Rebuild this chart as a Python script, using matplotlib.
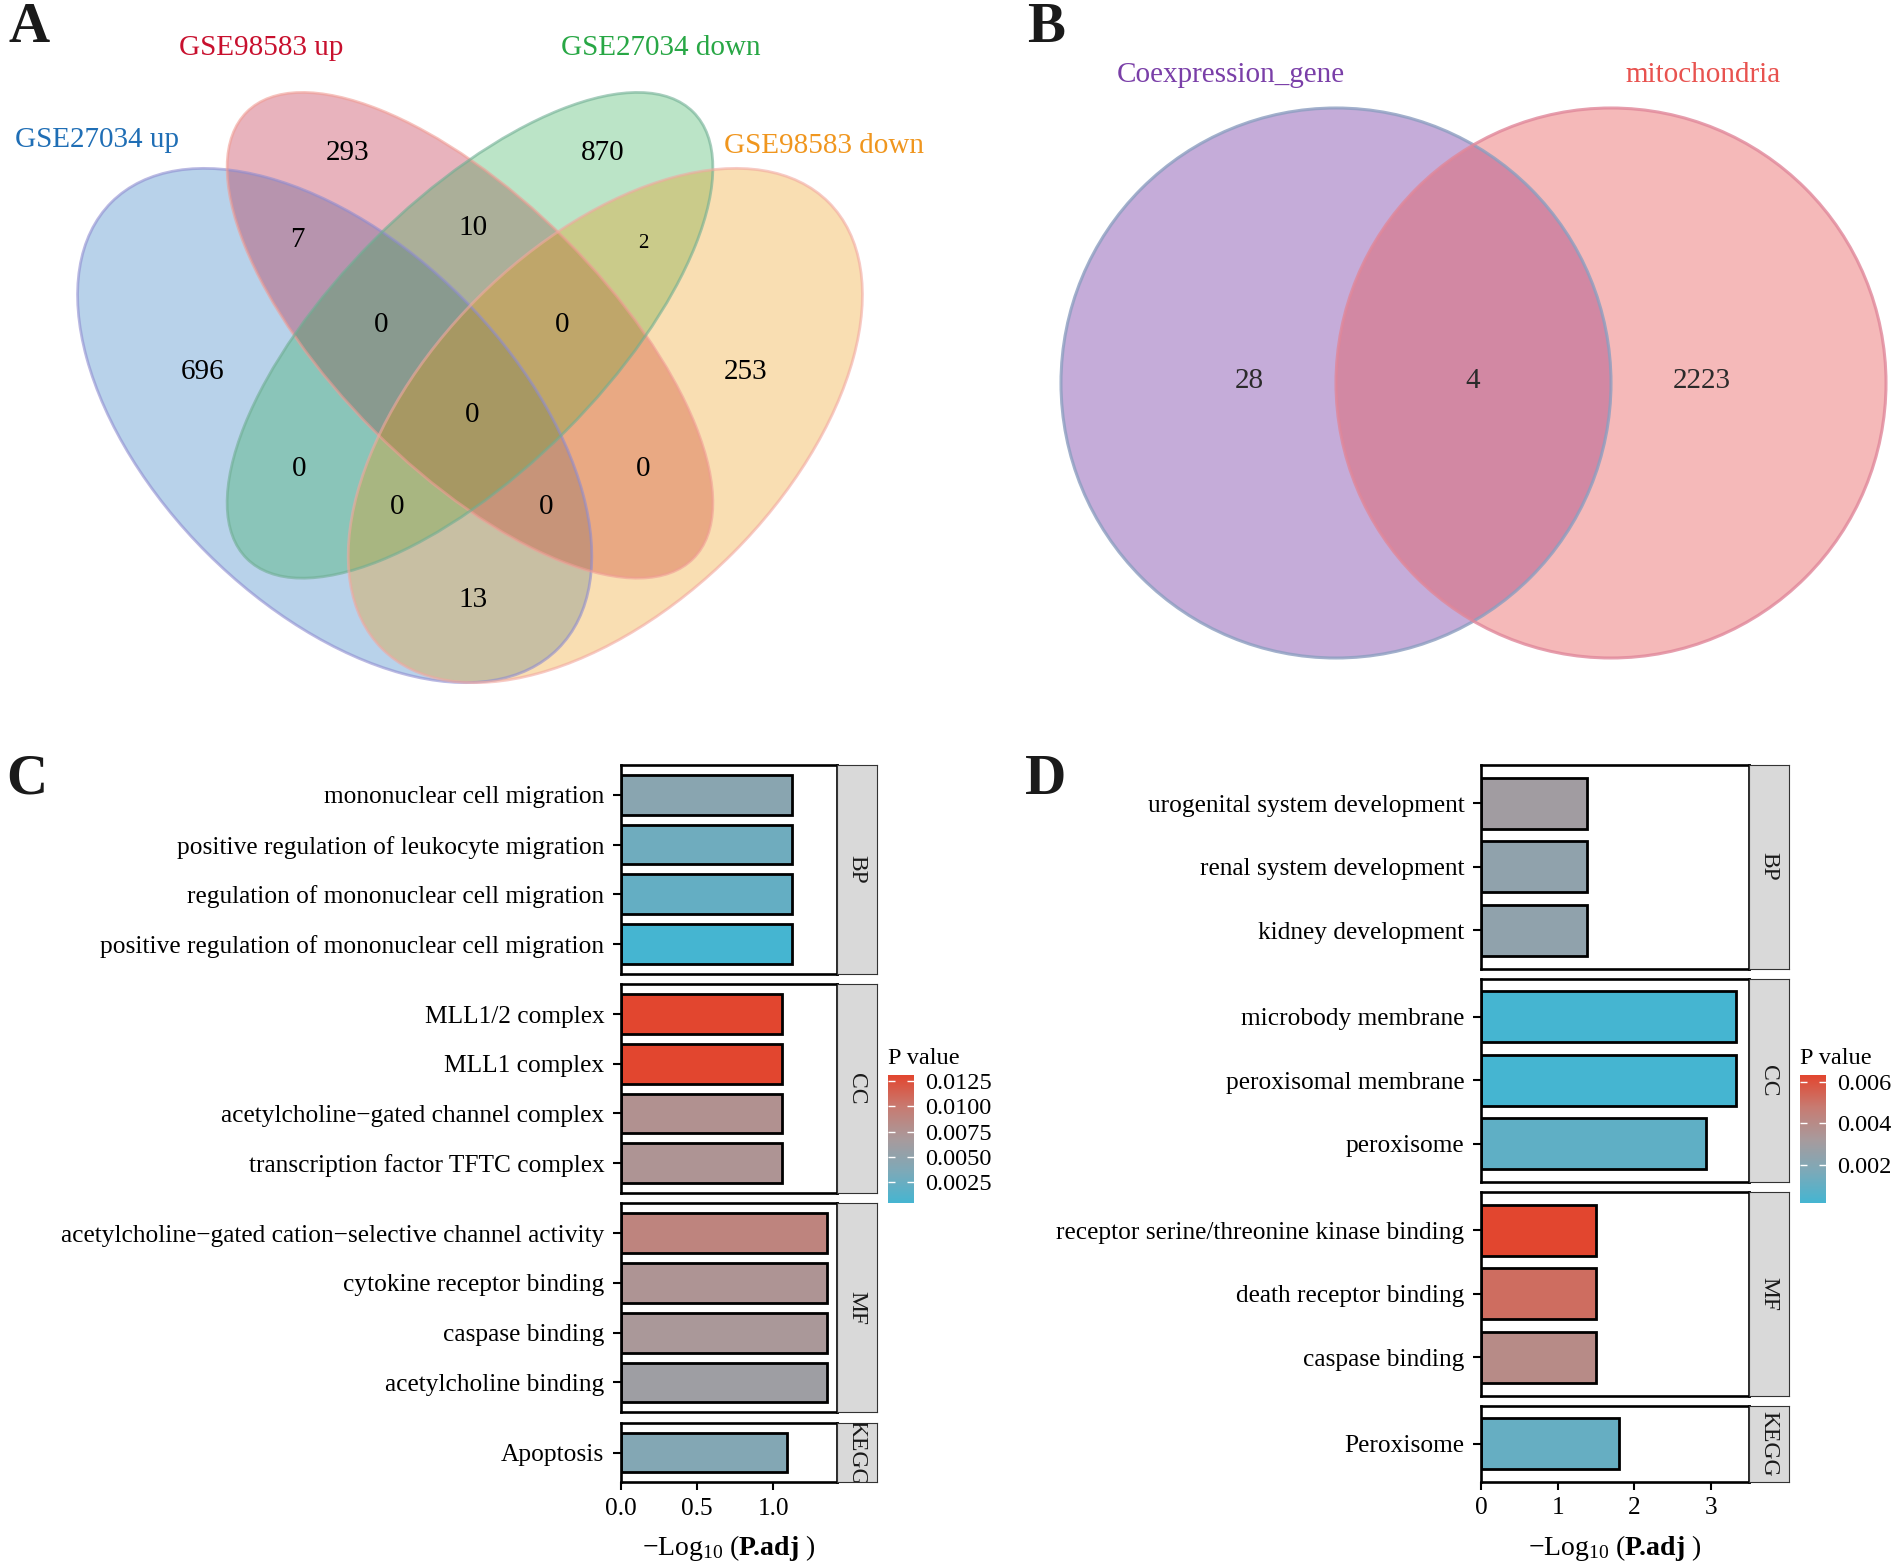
import matplotlib
matplotlib.use('Agg')
import matplotlib.pyplot as plt
from matplotlib.patches import Ellipse
from matplotlib.colors import LinearSegmentedColormap, Normalize
from matplotlib.cm import ScalarMappable

plt.rcParams['font.family'] = ['Liberation Serif', 'DejaVu Serif']
plt.rcParams['mathtext.fontset'] = 'custom'
plt.rcParams['mathtext.rm'] = 'Liberation Serif'
plt.rcParams['mathtext.bf'] = 'Liberation Serif:bold'
plt.rcParams['mathtext.it'] = 'Liberation Serif:italic'

# ---------------- data ----------------
# A: four set venn (blue, pink, green, orange)
venn4_sets = ['GSE27034 up', 'GSE98583 up', 'GSE27034 down', 'GSE98583 down']
venn4_regions = ['0100', '0010', '1100', '0110', '0011', '1000', '1110', '0111',
                 '0001', '1111', '1010', '0101', '1011', '1101', '1001']
venn4_counts = [293, 870, 7, 10, 2, 696, 0, 0, 253, 0, 0, 0, 0, 0, 13]

# B: two set venn
venn2_sets = ['Coexpression_gene', 'mitochondria']
venn2_counts = [28, 4, 2223]   # only left, both, only right

# C: enrichment
c_terms = ['mononuclear cell migration', 'positive regulation of leukocyte migration',
           'regulation of mononuclear cell migration',
           'positive regulation of mononuclear cell migration',
           'MLL1/2 complex', 'MLL1 complex', 'acetylcholine\u2212gated channel complex',
           'transcription factor TFTC complex',
           'acetylcholine\u2212gated cation\u2212selective channel activity',
           'cytokine receptor binding', 'caspase binding', 'acetylcholine binding',
           'Apoptosis']
c_ont = ['BP'] * 4 + ['CC'] * 4 + ['MF'] * 4 + ['KEGG']
c_logp = [1.119, 1.119, 1.119, 1.119, 1.057, 1.057, 1.057, 1.057,
          1.349, 1.349, 1.349, 1.349, 1.091]
c_pval = [0.0045, 0.0028, 0.0022, 0.00042, 0.0131, 0.0131, 0.0077, 0.0074,
          0.0090, 0.0074, 0.0070, 0.0060, 0.0040]

# D: enrichment
d_terms = ['urogenital system development', 'renal system development',
           'kidney development', 'microbody membrane', 'peroxisomal membrane',
           'peroxisome', 'receptor serine/threonine kinase binding',
           'death receptor binding', 'caspase binding', 'Peroxisome']
d_ont = ['BP'] * 3 + ['CC'] * 3 + ['MF'] * 3 + ['KEGG']
d_logp = [1.38, 1.38, 1.38, 3.33, 3.33, 2.94, 1.50, 1.50, 1.50, 1.80]
d_pval = [0.0030, 0.0024, 0.0024, 0.00016, 0.00016, 0.0009,
          0.00634, 0.0052, 0.0040, 0.0011]

# ---------------- layout / style ----------------
W, H = 1902, 1568
fig = plt.figure(figsize=(W / 100, H / 100), dpi=100)


def px_axes(x0, y0, x1, y1):
    # pixel box, origin top-left
    return fig.add_axes([x0 / W, 1 - y1 / H, (x1 - x0) / W, (y1 - y0) / H])


venn4_fill = ['#166CBC', '#B60526', '#20A848', '#EE9400']
venn4_edge = ['#8E8CD0', '#F09C94', '#6FAE93', '#F2A8A0']
venn4_text = ['#1F6EB5', '#C8102E', '#28A745', '#F0961E']
venn4_shapes = [((0.35, 0.47), 0.35, 0.20, -45), ((0.50, 0.57), 0.35, 0.15, -45),
                ((0.50, 0.57), 0.35, 0.15, 45), ((0.65, 0.47), 0.35, 0.20, 45)]
venn4_set_pos = [(0.0865, 0.787), (0.268, 0.888), (0.712, 0.888), (0.892, 0.780)]
venn4_pos = {'0100': (0.364, 0.772), '0010': (0.647, 0.772), '1100': (0.309, 0.676),
             '0110': (0.503, 0.689), '0011': (0.692, 0.672), '1000': (0.204, 0.529),
             '1110': (0.401, 0.581), '0111': (0.602, 0.581), '0001': (0.806, 0.529),
             '1111': (0.502, 0.482), '1010': (0.311, 0.422), '0101': (0.692, 0.422),
             '1011': (0.419, 0.380), '1101': (0.584, 0.380), '1001': (0.503, 0.277)}

# panel A
S = 902.0
axA = px_axes(0, 0, 951, 760)
axA.set_xlim(0.5 - 470 / S, 0.5 + (951 - 470) / S)
axA.set_ylim(0.47 - (760 - 425.5) / S, 0.47 + 425.5 / S)
axA.axis('off')
for (c, a, b, ang), fc in zip(venn4_shapes, venn4_fill):
    axA.add_patch(Ellipse(c, 2 * a, 2 * b, angle=ang, facecolor=fc, alpha=0.3, edgecolor='none'))
for (c, a, b, ang), ec in zip(venn4_shapes, venn4_edge):
    axA.add_patch(Ellipse(c, 2 * a, 2 * b, angle=ang, facecolor='none', edgecolor=ec,
                          alpha=0.6, lw=2))
for name, (x, y), col in zip(venn4_sets, venn4_set_pos, venn4_text):
    axA.text(x, y, name, color=col, fontsize=21, ha='center', va='center')
for reg, cnt in zip(venn4_regions, venn4_counts):
    x, y = venn4_pos[reg]
    fs = 15 if reg == '0011' else 21
    axA.text(x, y, str(cnt), fontsize=fs, ha='center', va='center', color='black')

# panel B
axB = px_axes(951, 0, 1902, 760)
axB.set_xlim(951, 1902)
axB.set_ylim(760, 0)
axB.axis('off')
venn2_fill = ['#7030A0', '#E85252']
venn2_edge = ['#8C9EC0', '#E0879A']
venn2_text = ['#7A3FA8', '#E8524F']
venn2_centers = [(1336, 383), (1611, 383)]
R = 275
for (cx, cy), fc in zip(venn2_centers, venn2_fill):
    axB.add_patch(Ellipse((cx, cy), 2 * R, 2 * R, facecolor=fc, alpha=0.4, edgecolor='none'))
for (cx, cy), ec in zip(venn2_centers, venn2_edge):
    axB.add_patch(Ellipse((cx, cy), 2 * R, 2 * R, facecolor='none', edgecolor=ec, lw=2.2, alpha=0.8))
for name, x, col in zip(venn2_sets, [1231, 1703], venn2_text):
    axB.text(x, 75, name, color=col, fontsize=21, ha='center', va='center')
for cnt, x in zip(venn2_counts, [1249, 1473, 1702]):
    axB.text(x, 381, str(cnt), fontsize=21, ha='center', va='center', color='#2B2B2B')

# panels C and D
cmap = LinearSegmentedColormap.from_list(
    'pv', [(0, '#45B5D1'), (0.25, '#7DA9B8'), (0.5, '#A89A9C'), (0.75, '#C77B72'), (1, '#E2462F')])


def draw_enrich(x0, x1, sx1, top, unit, gap, terms, ont, logp, pval, xticks, xtl, cb_box, cb_ticks, cb_tl):
    norm = Normalize(min(pval), max(pval))
    xmax = max(logp) * 1.05
    y = top
    ax = None
    for g in ['BP', 'CC', 'MF', 'KEGG']:
        idx = [i for i, o in enumerate(ont) if o == g]
        n = len(idx)
        h = (n + 0.2) * unit
        ax = px_axes(x0, y, x1, y + h)
        ax.barh(range(n), [logp[i] for i in idx], height=0.8,
                color=[cmap(norm(pval[i])) for i in idx], edgecolor='black', linewidth=2)
        ax.set_ylim(n - 0.4, -0.6)
        ax.set_xlim(0, xmax)
        ax.set_yticks(range(n))
        ax.set_yticklabels([terms[i] for i in idx], fontsize=18.3)
        ax.set_xticks([])
        ax.tick_params(axis='y', length=6, width=1.5, pad=6)
        for sp in ax.spines.values():
            sp.set_linewidth(1.9)
        sax = px_axes(x1, y, sx1, y + h)
        sax.set_facecolor('#D9D9D9')
        sax.set_xticks([])
        sax.set_yticks([])
        for sp in sax.spines.values():
            sp.set_linewidth(0.8)
            sp.set_color('#333333')
        sax.text(0.5, 0.5, g, rotation=-90, ha='center', va='center', fontsize=17,
                 color='#1A1A1A', transform=sax.transAxes, clip_on=True)
        y += h + gap
    ax.set_xticks(xticks)
    ax.set_xticklabels(xtl, fontsize=18.3)
    ax.tick_params(axis='x', length=6, width=1.5, pad=5)
    fig.text(((x0 + x1) / 2) / W, 1 - 1548 / H,
             r'$-\mathrm{Log}_{10}\ (\mathbf{P}\!\mathbf{.}\!\mathbf{adj}\ )$',
             fontsize=20, ha='center', va='center')

    cax = px_axes(*cb_box)
    cb = fig.colorbar(ScalarMappable(norm=norm, cmap=cmap), cax=cax)
    cb.outline.set_visible(False)
    cb.set_ticks(cb_ticks)
    cb.set_ticklabels(cb_tl)
    cax.tick_params(axis='y', length=5, width=1, color='white', direction='in',
                    labelsize=17.5, pad=8, left=True, right=True, labelleft=False)
    fig.text(cb_box[0] / W, 1 - (cb_box[1] - 16) / H, 'P value', fontsize=17.5,
             ha='left', va='center')


draw_enrich(621, 837, 877, 765, 49.7, 10.5, c_terms, c_ont, c_logp, c_pval,
            [0, 0.5, 1.0], ['0.0', '0.5', '1.0'], (888, 1075, 914, 1203),
            [0.0025, 0.005, 0.0075, 0.01, 0.0125],
            ['0.0025', '0.0050', '0.0075', '0.0100', '0.0125'])
draw_enrich(1481, 1749, 1789, 765, 63.6, 10.0, d_terms, d_ont, d_logp, d_pval,
            [0, 1, 2, 3], ['0', '1', '2', '3'], (1800, 1075, 1826, 1203),
            [0.002, 0.004, 0.006], ['0.002', '0.004', '0.006'])

# panel letters
for lab, (x, y) in zip('ABCD', [(29, 28), (1046, 28), (27, 780), (1046, 780)]):
    fig.text(x / W, 1 - y / H, lab, fontsize=41, fontweight='bold', ha='center',
             va='center', color='#1A1A1A')

fig.savefig('out.png', dpi=100, facecolor='white')
